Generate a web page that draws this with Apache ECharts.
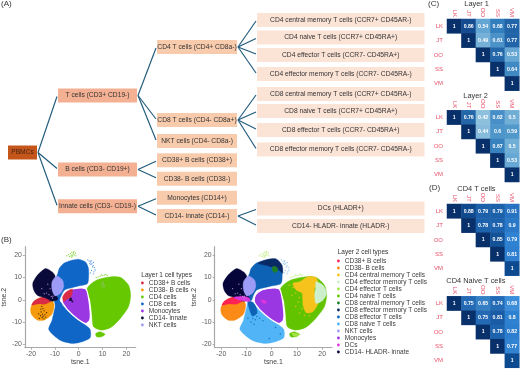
<!DOCTYPE html>
<html><head><meta charset="utf-8"><style>html,body{margin:0;padding:0;background:#fff}#c{width:520px;height:369px}</style>
<script src="https://cdn.jsdelivr.net/npm/echarts@6/dist/echarts.min.js"></script></head>
<body><div id="c"></div><script>
// ---------- Panel A: hierarchy ----------
const treeNames = ['PBMCs','T cells (CD3+ CD19-)','B cells (CD3- CD19+)','Innate cells (CD3- CD19-)',
 'CD4 T cells (CD4+ CD8a-)','CD8 T cells (CD4- CD8a+)','NKT cells (CD4- CD8a-)','CD38+ B cells (CD38+)','CD38- B cells (CD38-)','Monocytes (CD14+)','CD14- innate (CD14-)',
 'CD4 central memory T cells (CCR7+ CD45AR-)','CD4 naive T cells (CCR7+ CD45RA+)','CD4 effector T cells (CCR7- CD45RA+)','CD4 effector memory T cells (CCR7- CD45RA-)',
 'CD8 central memory T cells (CCR7+ CD45RA-)','CD8 naive T cells (CCR7+ CD45RA+)','CD8 effector T cells (CCR7- CD45RA+)','CD8 effector memory T cells (CCR7- CD45RA-)',
 'DCs (HLADR+)','CD14- HLADR- innate (HLADR-)'];
const treeParents = [-1,0,0,0,1,1,1,2,2,3,3,4,4,4,4,5,5,5,5,10,10];
const treeLevels = [0,1,1,1,2,2,2,2,2,2,2,3,3,3,3,3,3,3,3,3,3];
const treeRows = [152.5,95.5,169.5,206.3,47,120,141,160.3,178.7,197.7,216,20,37.5,55,74,94,111,130,149.5,208.5,226];
const levelSpans = [[8,37],[58,137],[157,237],[257,424.5]];
const levelFills = ['#C4561C','#F4B093','#F8CBAD','#FBE3D6'];
const BOX_H = 14;

// ---------- Panel B: t-SNE cluster outlines, tsne.1 / tsne.2 ----------
const cd8TopOutline = [[-8.8,11.9],[-8.2,14.1],[-5.9,16.7],[-0.5,18.3],[2.8,17.1],[4.1,14.1],[4.1,8.9],[3.5,7.1],[-1.2,5.9],[-5.9,4.4],[-7.2,2.1],[-8,-0.2],[-7.4,-2.4],[-9.5,-3.2],[-10.2,-0.5],[-10.2,5],[-9.8,9]];
const cd8LowOutline = [[-7.4,-1.2],[-6.8,-2.4],[-3.2,-6.5],[2.8,-11.4],[4.8,-13.4],[4.8,-17.1],[1.5,-18.9],[-2.5,-19.7],[-7.9,-18.2],[-12.6,-13.4],[-11.2,-9.2],[-9.9,-3.2],[-9.4,-0.9]];
const monoOutline = [[-6.8,1.1],[-5.2,3.6],[-1.9,5],[2.8,5],[3.9,2.1],[4.8,-5.4],[4.6,-9.2],[2.8,-10.7],[-2.5,-6.9],[-6.6,-1.7]];
const cd38posWedge = [[-6.8,1.1],[-5.2,3.6],[-2.6,4.8],[-3.2,1.4],[-5.2,0.1],[-6.2,-0.9]];
const cd4Outline = [[3.5,5.1],[7.5,8.9],[13.5,10.4],[17.5,10.1],[20.9,6.6],[21.8,2.1],[20.9,-3.2],[17.5,-8.4],[13.5,-12.5],[9.5,-13.7],[6.2,-12.2],[5.5,-6.2],[4.8,-0.2]];
const cd4Island = [[7.1,-15.2],[8.8,-14.4],[11.1,-15.5],[9.5,-16.7],[7.5,-16.7]];
const innateOutline = [[-19.3,7.4],[-17.3,11.1],[-13.9,14.1],[-11.2,12.6],[-9.9,10.7],[-10.4,6.6],[-9.8,2.9],[-8.8,0.2],[-11.2,-0.7],[-13.9,0.8],[-17.3,1.9],[-18.9,4.4]];
const nktOutline = [[-11.2,8.1],[-9.2,10.7],[-6.8,8.9],[-6.3,5.9],[-7.6,2.9],[-9.9,1.7],[-11.2,4.4]];
const bAllOutline = [[-20.2,-3.9],[-18.6,-0.5],[-15.3,1.1],[-11.2,-0.2],[-10.3,-2.4],[-11.2,-6.5],[-14.6,-9.2],[-17.3,-9.2],[-19.7,-6.9]];
const bPosOutline = [[-19.7,-2.4],[-18.6,-0.5],[-15.3,1.1],[-11.2,-0.2],[-13.9,-1.9],[-17.3,-1.9]];
const dcStrip = [[-15,1.2],[-11.2,1.6],[-8.9,0.8],[-8.6,-0.7],[-11.2,-0.6],[-13.9,0.2]];
const cd4CentralPatch = [[8.4,7.4],[11,8.1],[14.3,10.4],[17.6,10.1],[18.3,7.4],[17,5.1],[17.2,2.1],[18.3,-1.7],[16.3,-5.4],[13.7,-5.9],[12.4,-2.4],[12,2.9],[9.7,4.4]];
const cd4MemoryPatch = [[17.6,8.1],[20.3,6.6],[21.8,2.9],[20.3,-0.2],[17.6,-1.7],[17,2.1],[17.4,5.1]];
const cd4EffectorPatch = [[8,-14.9],[11.1,-15.5],[9.8,-16.5],[8.4,-16.2]];
const cd8MemoryPatch = [[-5.4,16.4],[-1.4,18.2],[1.8,18.4],[4.1,15.6],[4.3,11.9],[2.5,13.7],[-1.4,15.2]];
const cd8EffectorTop = [[-8.8,11.9],[-8.2,14.1],[-5.9,16.7],[-0.5,18.3],[2.8,17.1],[4.1,14.1],[4.1,8.9],[3.5,7.1],[-1.2,5.9],[-5.9,4.4],[-7.2,2.1],[-8,-0.2],[-9.4,-0.9],[-10.2,1],[-10.2,5],[-9.8,9]];
const cd8EffectorStrip = [[-7.4,-1.2],[-6.2,-3.2],[-5.8,-6],[-7.6,-7.4],[-8.8,-4.5],[-9.4,-0.9]];
const cd8CentralPatch = [[0.4,15],[2,14.8],[2.4,13],[1,12.2],[0.2,13.4]];
const dcInMono = [[-4.2,0.1],[-2.8,-0.1],[-1.9,-1.2],[-3.4,-1.7]];
// scattered events
const sparseTopGreen = [[-5,19.8],[-4.3,20.3],[-3.5,20.9],[-2.9,21.5],[-2.4,20.6],[-1.9,20.2],[-2.6,19.7],[-1.4,21],[-3.1,20.1],[-2,21.8],[-3.8,19.5],[-1.2,19.8],[-2.2,21.2],[-3,19.2]];
const sparseRightGreen = [[9.5,11.2],[10.1,10.9],[10.8,11.1],[11.4,11.4],[12,11],[9,10.6],[8.1,10.3],[7.3,10]];
const sparseBlueStreak = [[3.8,18],[4.4,17.4],[5,17],[5.6,16.3],[6.1,15.4],[6.6,14.5],[5.1,15.9],[5.8,14.8],[4.6,16.3],[6.9,13.4],[6.4,12.6],[6.1,11.7],[5.4,13.2],[4.9,12.1],[5.2,17.6],[6.2,16.8]];
const specksInOrange = [[-15.5,-3],[-15,-4],[-14.5,-5],[-15.8,-5.5],[-15.2,-6.5],[-14.2,-6.8],[-16,-7.2],[-15.3,-8],[-14.6,-8.6],[-16.5,-8.4],[-13.8,-7.8],[-15.9,-4.2],[-13.5,-5.8],[-16.8,-6.4],[-14.9,-7.4]];
const specksInInnate = [[-13.5,3],[-12.5,2.3],[-14.5,2.7],[-11.5,1.5],[-15.5,5],[-12,5],[-13,7],[-11,0.8],[-10.8,1.6]];
const specksInCd4 = [[10.2,6.6],[9.8,5.8],[10.6,5.3],[10.3,7.2],[9.6,6.8],[10.9,6.3],[10.1,8]];
const specksInMono = [[-3.6,0.3],[-3.3,-0.1],[-2.9,-0.4],[-3.1,0.4],[-2.6,-0.8],[-3.8,-0.2],[-3.4,0.6]];
const specksInNaive = [[-7.5,-8.5],[-6.5,-9],[-8.2,-10],[-5.9,-7.6],[-4.8,-8.3],[-7,-11],[-3.5,-9.5],[1.5,-12.5],[3.4,-15.4],[-1,-17.5],[-9.4,-8.3]];
const specksInNaiveCd4 = [[8.5,5.5],[9.5,3],[11,1],[10.5,-1],[12,-4],[7,6.5],[8,2],[9.5,-3],[11,-6],[13,-7],[15,-7.2]];
const tickX = [-20,-10,0,10,20];
const tickY = [-20,-10,0,10,20];

const layer1Names = ['CD38+ B cells','CD38- B cells','CD4 cells','CD8 cells','Monocytes','CD14- innate','NKT cells'];
const layer1Colors = ['#D92B45','#F59A0C','#66C800','#0F66C6','#9A36E2','#0A0A3A','#9C9CF6'];
const layer2Names = ['CD38+ B cells','CD38- B cells','CD4 central memory T cells','CD4 effector memory T cells','CD4 effector T cells','CD4 naive T cells','CD8 central memory T cells','CD8 effector memory T cells','CD8 effector T cells','CD8 naive T cells','NKT cells','Monocytes','DCs','CD14- HLADR- innate'];
const layer2Colors = ['#FF2355','#FB8A16','#F6C31C','#CDF0CC','#A2E445','#62C400','#1F7D28','#0A2A66','#0E62B6','#50B4F6','#9C9CF6','#9A36E2','#D936DC','#05053A'];

// ---------- Panels C, D: concordance matrices ----------
const raters = ['LK','JT','OO','SS','VM'];
const layer1Matrix = [[1,0.86,0.54,0.68,0.77],[null,1,0.49,0.61,0.77],[null,null,1,0.76,0.53],[null,null,null,1,0.64],[null,null,null,null,1]];
const layer2Matrix = [[1,0.76,0.42,0.62,0.5],[null,1,0.44,0.6,0.59],[null,null,1,0.67,0.5],[null,null,null,1,0.53],[null,null,null,null,1]];
const cd4Matrix = [[1,0.88,0.79,0.79,0.91],[null,1,0.78,0.78,0.9],[null,null,1,0.85,0.79],[null,null,null,1,0.81],[null,null,null,null,1]];
const naiveMatrix = [[1,0.75,0.65,0.74,0.68],[null,1,0.75,0.81,0.8],[null,null,1,0.78,0.82],[null,null,null,1,0.77],[null,null,null,null,1]];

const FONT = 'Liberation Sans';
const grids=[], xAxes=[], yAxes=[], series=[], visualMaps=[];

// hidden canvas-wide grid for the diagram
grids.push({left:0,top:0,width:520,height:369});
xAxes.push({type:'value',min:0,max:520,show:false,gridIndex:0});
yAxes.push({type:'value',min:0,max:369,inverse:true,show:false,gridIndex:0});
const boxX = i => levelSpans[treeLevels[i]];
series.push({type:'custom',name:'edges',xAxisIndex:0,yAxisIndex:0,silent:true,z:1,clip:false,
  data:treeNames.map((n,i)=>[boxX(i)[0],treeRows[i]]).slice(1),
  renderItem(p,api){
    const i=p.dataIndex+1, par=treeParents[i];
    const a=api.coord([boxX(par)[1]+1,treeRows[par]]), b=api.coord([boxX(i)[0]-1,treeRows[i]+(treeRows[i]>treeRows[par]?-1:1)]);
    return {type:'line',shape:{x1:a[0],y1:a[1],x2:b[0],y2:b[1]},style:{stroke:'#1F5A7A',lineWidth:1.15}};
  }});
series.push({type:'custom',name:'boxes',xAxisIndex:0,yAxisIndex:0,silent:true,z:2,clip:false,
  data:treeNames.map((n,i)=>[boxX(i)[0],treeRows[i]]),
  renderItem(p,api){
    const i=p.dataIndex, s=boxX(i);
    const a=api.coord([s[0],treeRows[i]-BOX_H/2]), b=api.coord([s[1],treeRows[i]+BOX_H/2]);
    return {type:'group',children:[
      {type:'rect',shape:{x:a[0],y:a[1],width:b[0]-a[0],height:b[1]-a[1]},style:{fill:levelFills[treeLevels[i]]}},
      {type:'text',style:{x:(a[0]+b[0])/2,y:(a[1]+b[1])/2,text:treeNames[i],align:'center',verticalAlign:'middle',fontFamily:FONT,fontSize:6.7,fill:i===0?'#4A2410':'#333333'}}
    ]};
  }});

// t-SNE panels
function tsneAxes(left,width,xMin,xMax){
  const g=grids.length;
  grids.push({left,top:246.7,width,height:101});
  const ax={lineStyle:{color:'#A8A8A8',width:1.2}};
  const lab={color:'#5A5A5A',fontSize:6.9,fontFamily:FONT,margin:3};
  xAxes.push({type:'value',gridIndex:g,min:xMin,max:xMax,name:'tsne.1',nameLocation:'middle',nameGap:10,nameTextStyle:{color:'#444',fontSize:6.9,fontFamily:FONT},
    axisLine:{show:true,onZero:false,...ax},splitLine:{show:false},
    axisTick:{show:true,length:2,customValues:tickX,lineStyle:{color:'#999',width:.8}},axisLabel:{...lab,customValues:tickX,showMinLabel:true,showMaxLabel:true}});
  yAxes.push({type:'value',gridIndex:g,min:-21.6,max:23.9,name:'tsne.2',nameLocation:'middle',nameGap:13,nameTextStyle:{color:'#444',fontSize:6.9,fontFamily:FONT},
    axisLine:{show:true,onZero:false,...ax},splitLine:{show:false},
    axisTick:{show:true,length:2,customValues:tickY,lineStyle:{color:'#999',width:.8}},axisLabel:{...lab,customValues:tickY}});
  return g;
}
function blobs(g,name,color,outlines,stroke){
  series.push({type:'custom',name,xAxisIndex:g,yAxisIndex:g,silent:true,itemStyle:{color},
    data:outlines.map(o=>o[0]),
    renderItem(p,api){
      return {type:'polygon',shape:{points:outlines[p.dataIndex].map(q=>api.coord(q)),smooth:0.25},
        style:{fill:color,stroke:stroke||color,lineWidth:stroke?1.2:0.3}};
    }});
}
function specks(g,color,points,size){
  series.push({type:'scatter',name:'speck',xAxisIndex:g,yAxisIndex:g,silent:true,symbolSize:size||1.3,itemStyle:{color},data:points});
}
const g1=tsneAxes(20,115.7,-22.6,23.9);
blobs(g1,'CD8 cells',layer1Colors[3],[cd8TopOutline,cd8LowOutline]);
blobs(g1,'CD4 cells',layer1Colors[2],[cd4Outline,cd4Island]);
blobs(g1,'Monocytes',layer1Colors[4],[monoOutline],'#FFFFFF');
blobs(g1,'CD38- B cells',layer1Colors[1],[bAllOutline]);
blobs(g1,'CD38+ B cells',layer1Colors[0],[bPosOutline,cd38posWedge]);
blobs(g1,'CD14- innate',layer1Colors[5],[innateOutline]);
blobs(g1,'NKT cells',layer1Colors[6],[nktOutline]);
specks(g1,'#66C800',sparseTopGreen.concat(sparseRightGreen));
specks(g1,'#2F7FD8',sparseBlueStreak);
specks(g1,'#151515',specksInOrange);
specks(g1,'#C9A6E8',specksInInnate);
specks(g1,'#9DBE98',specksInCd4);
specks(g1,'#0A0A2A',specksInMono,1.7);

const g2=tsneAxes(214.7,117.3,-22.6,23.9);
blobs(g2,'CD8 naive T cells',layer2Colors[9],[cd8LowOutline]);
blobs(g2,'CD8 effector T cells',layer2Colors[8],[cd8EffectorTop,cd8EffectorStrip]);
blobs(g2,'CD8 effector memory T cells',layer2Colors[7],[cd8MemoryPatch]);
blobs(g2,'CD8 central memory T cells',layer2Colors[6],[cd8CentralPatch]);
blobs(g2,'CD4 naive T cells',layer2Colors[5],[cd4Outline,cd4Island]);
blobs(g2,'CD4 central memory T cells',layer2Colors[2],[cd4CentralPatch]);
blobs(g2,'CD4 effector memory T cells',layer2Colors[3],[cd4MemoryPatch]);
blobs(g2,'CD4 effector T cells',layer2Colors[4],[cd4EffectorPatch]);
blobs(g2,'Monocytes',layer2Colors[11],[monoOutline],'#FFFFFF');
blobs(g2,'CD38- B cells',layer2Colors[1],[bAllOutline]);
blobs(g2,'CD38+ B cells',layer2Colors[0],[bPosOutline]);
blobs(g2,'CD14- HLADR- innate',layer2Colors[13],[innateOutline]);
blobs(g2,'DCs',layer2Colors[12],[dcStrip,dcInMono]);
blobs(g2,'NKT cells',layer2Colors[10],[nktOutline]);
specks(g2,'#A2E445',sparseTopGreen.concat(sparseRightGreen));
specks(g2,'#6FB8F0',sparseBlueStreak);
specks(g2,'#C9A6E8',specksInInnate);
specks(g2,'#0E62B6',specksInNaive,1.5);
specks(g2,'#F6C31C',specksInNaiveCd4,1.5);

// heatmaps (lastScale: the VM column of panel D prints brighter than the others)
function heat(matrix,top,height,vmin,vmax,colors,lastScale){
  const g=grids.length;
  grids.push({left:447,top,width:72.3,height});
  const lab={color:'#E85068',fontSize:6,fontFamily:FONT};
  xAxes.push({type:'category',gridIndex:g,position:'top',data:raters,axisLine:{show:false},axisTick:{show:false},splitLine:{show:false},axisLabel:{...lab,rotate:90,margin:2,interval:0}});
  yAxes.push({type:'category',gridIndex:g,inverse:true,data:raters,axisLine:{show:false},axisTick:{show:false},splitLine:{show:false},axisLabel:{...lab,margin:4,interval:0}});
  const main=[], last=[];
  matrix.forEach((row,r)=>row.forEach((v,c)=>{if(v!==null)(lastScale&&c===row.length-1?last:main).push([c,r,v]);}));
  const add=(data,cols)=>{
    visualMaps.push({show:false,type:'continuous',seriesIndex:series.length,min:vmin,max:vmax,inRange:{color:cols},dimension:2});
    series.push({type:'heatmap',name:'h'+series.length,xAxisIndex:g,yAxisIndex:g,silent:true,data,
      label:{show:true,color:'#fff',fontSize:5.2,fontWeight:'bold',fontFamily:FONT,formatter:p=>String(p.value[2])},itemStyle:{borderWidth:0}});
  };
  add(main,colors);
  if(lastScale) add(last,lastScale);
}
const scaleC=['#94C4DF','#5FA3D2','#2C78B9','#154E92','#08306B'];
const scaleD=['#3F8ACB','#2B74BF','#1A5EA8','#0E4585','#08306B'];
const scaleDLast=['#4A9BE0','#3A8BD8','#2E80D0','#2A78C8','#0E4A90'];
heat(layer1Matrix,19,71.7,0.4,1,scaleC);
heat(layer2Matrix,110.3,71.7,0.4,1,scaleC);
heat(cd4Matrix,204,71.7,0.6,1,scaleD,scaleDLast);
heat(naiveMatrix,296.3,71.5,0.6,1,scaleD,scaleDLast);

const t=(text,left,top,size,color)=>({text,left,top,padding:0,textStyle:{fontFamily:FONT,fontSize:size,fontWeight:'normal',color:color||'#333'}});
const legendOf=(names,colors,left,top)=>({orient:'vertical',left,top,padding:0,itemGap:0,itemWidth:2.8,itemHeight:2.8,icon:'circle',selectedMode:false,
  textStyle:{fontFamily:FONT,fontSize:6.5,lineHeight:6.25,color:'#3A3A3A',padding:0},
  data:names.map((name,i)=>({name,icon:'circle',itemStyle:{color:colors[i]},textStyle:{fontFamily:FONT,fontSize:6.5,lineHeight:6.25,color:'#3A3A3A'}}))});

echarts.init(document.getElementById('c'),null,{renderer:'canvas'}).setOption({
  animation:false,backgroundColor:'#fff',
  title:[t('(A)',1,0,8),t('(B)',1,236,8),t('(C)',428,0,8),t('(D)',429,184,8),
    t('Layer 1',464.3,0,7.4),t('Layer 2',463.3,92.5,7.4),t('CD4 T cells',457.3,185,7.4),t('CD4 Naive T cells',446.3,277.5,7.4),
    t('Layer 1 cell types',141.3,271.5,6.5),t('Layer 2 cell types',337.7,249,6.5)],
  grid:grids,xAxis:xAxes,yAxis:yAxes,series,visualMap:visualMaps,
  legend:[legendOf(layer1Names,layer1Colors,141,279.5),legendOf(layer2Names,layer2Colors,337,257.5)]
});
</script></body></html>
